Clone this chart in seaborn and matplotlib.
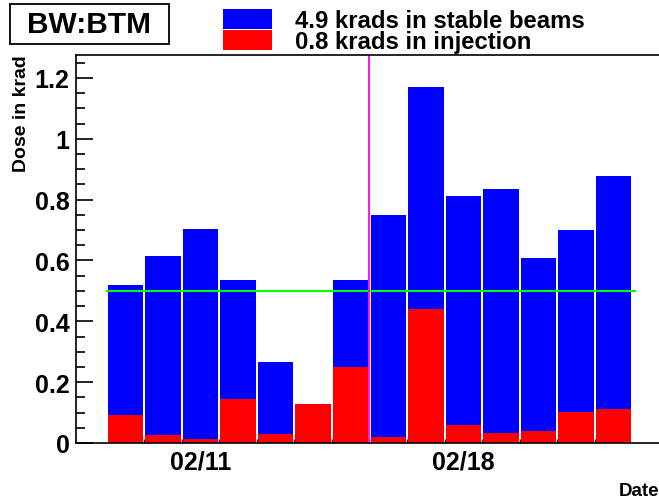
import numpy as np
import seaborn as sns
import matplotlib.pyplot as plt
from matplotlib.patches import Rectangle

# daily dose, krad (blue = total, red = injection part)
dates = ['02/09', '02/10', '02/11', '02/12', '02/13', '02/14', '02/15',
         '02/16', '02/17', '02/18', '02/19', '02/20', '02/21', '02/22']
total_dose = [0.520, 0.615, 0.704, 0.536, 0.266, 0.128, 0.536,
              0.750, 1.171, 0.812, 0.835, 0.609, 0.700, 0.878]
injection_dose = [0.092, 0.026, 0.013, 0.145, 0.030, 0.128, 0.251,
                  0.021, 0.441, 0.059, 0.033, 0.041, 0.102, 0.112]
label_dates = ['02/11', '02/18']
threshold = 0.5
marker_pos = 6.5  # between 02/15 and 02/16

title = 'BW:BTM'
legend_labels = ['4.9 krads in stable beams', '0.8 krads in injection']

plt.rcParams['font.family'] = 'Liberation Sans'
plt.rcParams['font.weight'] = 'bold'

W, H = 659, 502
fig = plt.figure(figsize=(W / 100, H / 100), dpi=100)
ax = fig.add_axes([76 / W, (H - 444) / H, (W - 76) / W, (444 - 55.5) / H])

sns.barplot(x=dates, y=total_dose, color='#0000ff', saturation=1,
            width=0.945, errorbar=None, ax=ax, zorder=2)
sns.barplot(x=dates, y=injection_dose, color='#ff0000', saturation=1,
            width=0.945, errorbar=None, ax=ax, zorder=2)
for p in ax.patches:
    p.set_linewidth(0)

ax.hlines(threshold, -0.52, len(dates) - 0.4, color='#00ff00', lw=1.5, zorder=3)
ax.axvline(marker_pos, color='#ff00ff', lw=1.3, zorder=3)

ax.set_xlim(-1.316, 14.21)
ax.set_ylim(0, 1.277)

ax.set_xticks([dates.index(d) for d in label_dates])
ax.set_xticklabels(label_dates)
ax.set_xticks(np.arange(len(dates) - 1) + 0.5, minor=True)
ax.tick_params(axis='x', which='major', length=0, pad=5, labelsize=18)
ax.tick_params(axis='x', which='minor', direction='in', length=3, width=1)

ax.set_yticks(np.arange(0, 1.21, 0.2))
ax.set_yticklabels(['0', '0.2', '0.4', '0.6', '0.8', '1', '1.2'])
ax.set_yticks(np.arange(0, 1.26, 0.05), minor=True)
ax.tick_params(axis='y', which='major', direction='in', length=12.5, width=1.2,
               pad=4.5, labelsize=18)
ax.tick_params(axis='y', which='minor', direction='in', length=6.5, width=1.2)
ax.set_axisbelow(True)

ax.set_xlabel('')
ax.set_ylabel('')
ax.spines['right'].set_visible(False)
for s in ['left', 'bottom', 'top']:
    ax.spines[s].set_linewidth(1.2)
    ax.spines[s].set_zorder(4)

fig.text(22 / W, 1 - 55.7 / H, 'Dose in krad', rotation=90, ha='center', va='top',
         fontsize=14, fontweight='bold')
fig.text(1.0, 1 - 496 / H, 'Date', ha='right', va='baseline',
         fontsize=13.5, fontweight='bold')

# title box
fig.patches.append(Rectangle((10 / W, 1 - 45 / H), 159 / W, 40 / H,
                             transform=fig.transFigure, facecolor='white',
                             edgecolor='black', lw=1.3))
fig.text(89.5 / W, 1 - 25 / H, title, ha='center', va='center',
         fontsize=21.5, fontweight='bold')

# legend
for k, (lab, col) in enumerate(zip(legend_labels, ['#0000ff', '#ff0000'])):
    top = 10 + 21 * k
    fig.patches.append(Rectangle((223 / W, 1 - (top + 19.5) / H), 49 / W, 19.5 / H,
                                 transform=fig.transFigure, facecolor=col,
                                 edgecolor='none'))
    fig.text(295 / W, 1 - (28.3 + 21 * k) / H, lab, ha='left', va='baseline',
             fontsize=17.2, fontweight='bold')

plt.savefig('out.png', dpi=100)
